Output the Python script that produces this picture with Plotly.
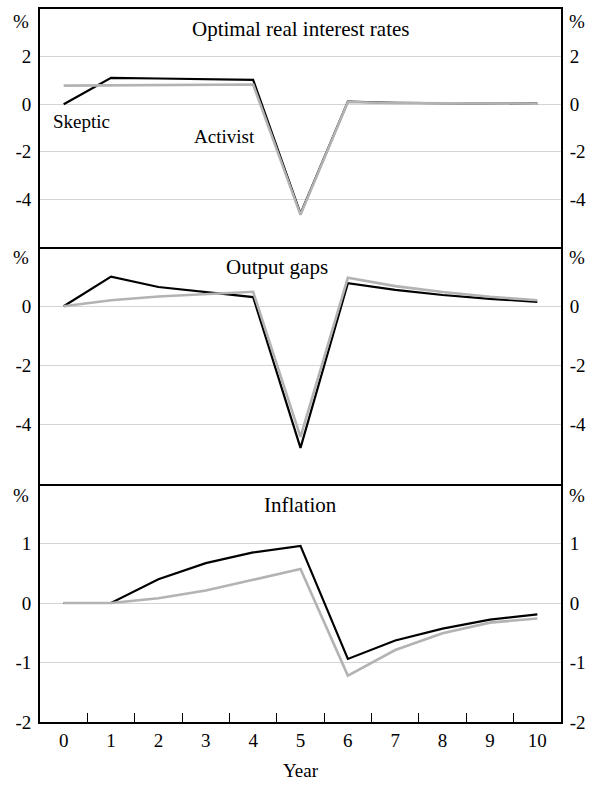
import plotly.graph_objects as go

years = [str(y) for y in range(11)]

rate_skeptic = [0.0, 1.11, 1.08, 1.05, 1.02, -4.6, 0.11, 0.06, 0.03, 0.02, 0.02]
rate_activist = [0.78, 0.79, 0.80, 0.82, 0.83, -4.65, 0.09, 0.05, 0.03, 0.02, 0.02]

gap_skeptic = [0.0, 1.0, 0.65, 0.47, 0.31, -4.78, 0.78, 0.55, 0.38, 0.25, 0.15]
gap_activist = [0.0, 0.2, 0.33, 0.42, 0.49, -4.41, 0.96, 0.68, 0.48, 0.32, 0.2]

infl_skeptic = [0.0, 0.0, 0.4, 0.67, 0.85, 0.96, -0.94, -0.63, -0.43, -0.28, -0.19]
infl_activist = [0.0, 0.0, 0.08, 0.21, 0.39, 0.57, -1.22, -0.79, -0.51, -0.33, -0.26]

panel_titles = ["Optimal real interest rates", "Output gaps", "Inflation"]
y_ranges = [[-6, 4], [-6, 2], [-2, 2]]
y_ticks = [[-4, -2, 0, 2], [-4, -2, 0], [-2, -1, 0, 1]]
y_ticktext = [["-4", "-2", "0", "2"], ["-4", "-2", "0"], ["-2", "-1", "0", "1"]]

FONT = "Liberation Serif"
TICK = 19
TITLE = 21
W, H = 593, 785
L, R, T, B = 40, 25, 7, 59
PW, PH = W - L - R, H - T - B

def px(x):
    return (x - L) / PW

def py(y):
    return (H - B - y) / PH

fig = go.Figure()

series = [(rate_skeptic, rate_activist), (gap_skeptic, gap_activist), (infl_skeptic, infl_activist)]
domains = [[479 / PH, 1.0], [240 / PH, 479 / PH], [0.0, 240 / PH]]

for i, (sk, ac) in enumerate(series):
    xa = "x" if i == 0 else f"x{i+1}"
    ya = "y" if i == 0 else f"y{i+1}"
    fig.add_trace(go.Scatter(x=years, y=sk, mode="lines", xaxis=xa, yaxis=ya,
                             line=dict(color="black", width=2.2), showlegend=False))
    fig.add_trace(go.Scatter(x=years, y=ac, mode="lines", xaxis=xa, yaxis=ya,
                             line=dict(color="#b3b3b3", width=2.6), showlegend=False))

layout = dict(
    width=W, height=H,
    margin=dict(l=L, r=R, t=T, b=B),
    paper_bgcolor="white", plot_bgcolor="white",
    font=dict(family=FONT, size=TICK, color="black"),
    showlegend=False,
)

for i in range(3):
    xk = "xaxis" if i == 0 else f"xaxis{i+1}"
    yk = "yaxis" if i == 0 else f"yaxis{i+1}"
    yrk = f"yaxis{i+4}"
    ya = "y" if i == 0 else f"y{i+1}"
    xa = "x" if i == 0 else f"x{i+1}"
    bottom = (i == 2)
    layout[xk] = dict(
        type="category", domain=[0, 1], anchor=ya, range=[-0.5, 10.5],
        showline=True, linecolor="black", linewidth=1.8, mirror=(i == 0),
        showgrid=False, zeroline=False,
        tickson="boundaries", ticks="inside" if bottom else "", ticklen=9,
        tickcolor="black", tickwidth=1.3,
        showticklabels=bottom, tickfont=dict(size=TICK),
    )
    if i > 0:
        layout[xk]["matches"] = "x"
    layout[yk] = dict(
        domain=domains[i], anchor=xa, range=y_ranges[i],
        tickvals=y_ticks[i], ticktext=y_ticktext[i],
        showgrid=True, gridcolor="#d4d4d4", gridwidth=1,
        zeroline=False, showline=True, linecolor="black", linewidth=1.8,
        ticks="", ticklabelstandoff=3, tickfont=dict(size=TICK),
    )
    layout[yrk] = dict(
        overlaying=ya, side="right", anchor=xa, range=y_ranges[i],
        tickvals=y_ticks[i], ticktext=y_ticktext[i],
        showgrid=False, zeroline=False,
        showline=True, linecolor="black", linewidth=1.8,
        ticks="", ticklabelstandoff=3, tickfont=dict(size=TICK),
    )
    fig.add_trace(go.Scatter(x=[years[0]], y=[None], xaxis=xa, yaxis=f"y{i+4}",
                             showlegend=False, hoverinfo="skip"))

layout["xaxis3"]["title"] = dict(text="Year", font=dict(size=TICK), standoff=14)
fig.update_layout(**layout)

annotations = []
title_pos = [(304, 27), (280, 267), (304, 507)]
for t, (x, y) in zip(panel_titles, title_pos):
    annotations.append(dict(text=t, x=px(x), y=py(y), xref="paper", yref="paper",
                            showarrow=False, font=dict(size=TITLE), xanchor="center", yanchor="middle"))
for y in [20, 258, 498]:
    annotations.append(dict(text="%", x=px(31), y=py(y), xref="paper", yref="paper",
                            showarrow=False, font=dict(size=TICK), xanchor="right", yanchor="middle"))
    annotations.append(dict(text="%", x=px(574), y=py(y), xref="paper", yref="paper",
                            showarrow=False, font=dict(size=TICK), xanchor="left", yanchor="middle"))
annotations.append(dict(text="Skeptic", x=px(82), y=py(120), xref="paper", yref="paper",
                        showarrow=False, font=dict(size=TICK), xanchor="center", yanchor="middle"))
annotations.append(dict(text="Activist", x=px(227), y=py(136), xref="paper", yref="paper",
                        showarrow=False, font=dict(size=TICK), xanchor="center", yanchor="middle"))
fig.update_layout(annotations=annotations)

fig.write_html("out.html", config={"displayModeBar": False},
               post_script="document.body.style.margin='0';document.body.style.overflow='hidden';")
